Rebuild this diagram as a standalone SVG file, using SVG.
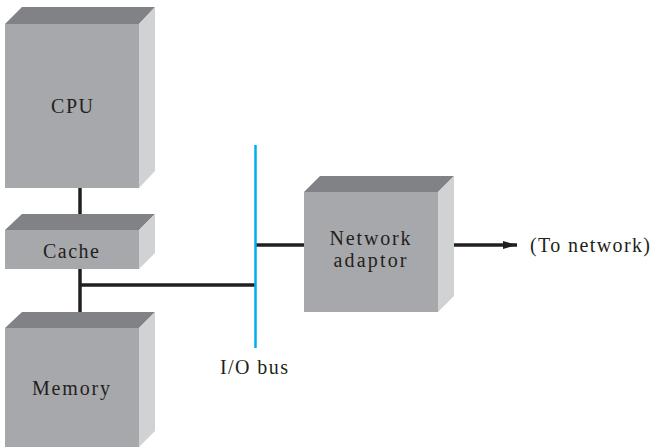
<svg xmlns="http://www.w3.org/2000/svg" width="651" height="447" viewBox="0 0 651 447">
<style>
.top{fill:#818285}
.front{fill:#a7a8ab}
.side{fill:#d1d2d4}
.lbl{font-family:"Liberation Serif","Times New Roman",serif;font-size:20px;fill:#231f20}
.wire{stroke:#231f20;stroke-width:3.5;fill:none}
.bus{stroke:#00aeef;stroke-width:2.5;fill:none}
</style>
<defs>
<marker id="ah" viewBox="0 0 14 8" refX="14" refY="4" markerWidth="14" markerHeight="8" markerUnits="userSpaceOnUse" orient="auto">
<path d="M0,0 L14,4 L0,8 Z" fill="#231f20"/>
</marker>
</defs>
<rect width="651" height="447" fill="#ffffff"/>
<g id="connectors">
<line class="wire" x1="80" y1="186" x2="80" y2="216"/>
<line class="wire" x1="80" y1="268" x2="80" y2="314"/>
<line class="wire" x1="80" y1="285" x2="255" y2="285"/>
<line class="wire" x1="255" y1="245" x2="306" y2="245"/>
<line class="wire" x1="453" y1="245" x2="517" y2="245" marker-end="url(#ah)"/>
<line class="bus" x1="255.5" y1="145" x2="255.5" y2="348"/>
</g>
<g id="cpu">
<polygon class="top" points="5,24 22,7 155,7 139,24"/>
<rect class="front" x="5" y="24" width="134" height="164"/>
<polygon class="side" points="139,24 155,7 155,171 139,188"/>
<text class="lbl" x="72" y="113" text-anchor="middle" textLength="42" lengthAdjust="spacing">CPU</text>
</g>
<g id="cache">
<polygon class="top" points="5,230 22,214 155,214 139,230"/>
<rect class="front" x="5" y="230" width="134" height="39"/>
<polygon class="side" points="139,230 155,214 155,253 139,269"/>
<text class="lbl" x="71" y="258" text-anchor="middle" textLength="56" lengthAdjust="spacing">Cache</text>
</g>
<g id="memory">
<polygon class="top" points="5,328 22,312 155,312 139,328"/>
<rect class="front" x="5" y="328" width="134" height="119"/>
<polygon class="side" points="139,328 155,312 155,431 139,447"/>
<text class="lbl" x="71" y="395" text-anchor="middle" textLength="78" lengthAdjust="spacing">Memory</text>
</g>
<g id="network-adaptor">
<polygon class="top" points="304,192 320,176 454,176 438,192"/>
<rect class="front" x="304" y="192" width="134" height="120"/>
<polygon class="side" points="438,192 454,176 454,296 438,312"/>
<text class="lbl" x="370" y="245" text-anchor="middle" textLength="81" lengthAdjust="spacing">Network</text>
<text class="lbl" x="370" y="267" text-anchor="middle" textLength="73" lengthAdjust="spacing">adaptor</text>
</g>
<g id="io-bus-label">
<text class="lbl" x="220" y="374" textLength="68" lengthAdjust="spacing">I/O bus</text>
</g>
<g id="to-network-label">
<text class="lbl" x="530" y="252" textLength="120" lengthAdjust="spacing">(To network)</text>
</g>
</svg>
